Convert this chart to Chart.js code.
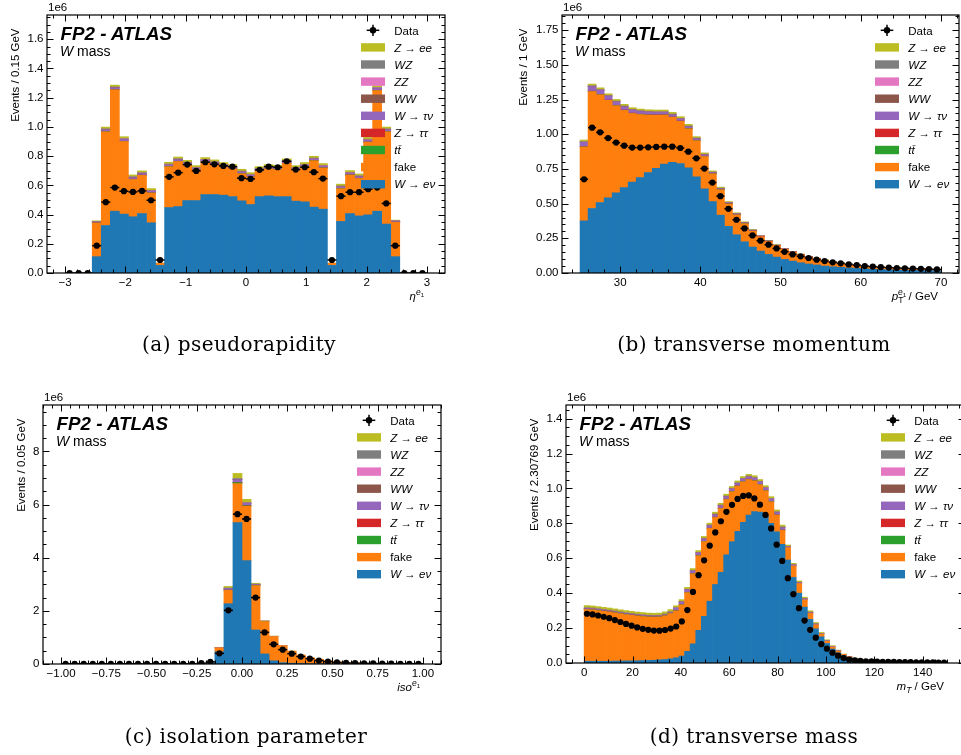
<!DOCTYPE html>
<html><head><meta charset="utf-8">
<script src="https://cdn.jsdelivr.net/npm/chart.js@4.4.0/dist/chart.umd.min.js"></script>
<style>
html,body{margin:0;padding:0;background:#fff;}
body{width:961px;height:755px;overflow:hidden;position:relative;}
.pc{position:absolute;}
.pc canvas{display:block;}
#ov{position:absolute;left:0;top:0;pointer-events:none;}
</style></head><body>
<div class="pc" style="left:0;top:0;width:480px;height:300px"><canvas id="cA" width="480" height="300"></canvas></div>
<div class="pc" style="left:480px;top:0;width:481px;height:300px"><canvas id="cB" width="481" height="300"></canvas></div>
<div class="pc" style="left:0;top:390px;width:480px;height:300px"><canvas id="cC" width="480" height="300"></canvas></div>
<div class="pc" style="left:480px;top:390px;width:500px;height:300px"><canvas id="cD" width="500" height="300"></canvas></div>
<svg id="ov" width="961" height="755" xmlns="http://www.w3.org/2000/svg"></svg>
<script>
// ---------------- DATA (values in units of 1e6 events) ----------------
// (a) pseudorapidity: 40 bins from -3 to 3
const etaBinning = [-3, 3, 40];
const etaWenu   = [0,0,0,.112,.325,.423,.403,.385,.407,.344,.052,.448,.455,.496,.496,.537,.537,.533,.523,.494,.469,.523,.528,.523,.523,.492,.487,.451,.437,.052,.353,.407,.391,.398,.423,.335,.112,0,0,0];
const etaFake   = [0,0,0,.230,.641,.830,.497,.255,.261,.203,.014,.279,.308,.244,.208,.222,.206,.192,.188,.185,.187,.174,.183,.183,.227,.212,.238,.317,.281,.014,.224,.263,.256,.497,.826,.631,.235,0,0,0];
const etaTtbar  = [0,0,0,.0005,.001,.001,.001,.001,.001,.001,0,.001,.001,.001,.001,.001,.001,.001,.001,.001,.001,.001,.001,.001,.001,.001,.001,.001,.001,0,.001,.001,.001,.001,.001,.001,.0005,0,0,0];
const etaZtautau= [0,0,0,.0005,.001,.001,.001,.001,.001,.001,0,.001,.001,.001,.001,.001,.001,.001,.001,.001,.001,.001,.001,.001,.001,.001,.001,.001,.001,0,.001,.001,.001,.001,.001,.001,.0005,0,0,0];
const etaWtaunu = [0,0,0,.006,.012,.012,.012,.010,.010,.010,.001,.010,.010,.010,.010,.010,.010,.010,.010,.010,.010,.010,.010,.010,.010,.010,.010,.010,.010,.001,.010,.010,.010,.012,.012,.012,.006,0,0,0];
const etaWW     = [0,0,0,.001,.002,.002,.002,.002,.002,.002,0,.002,.002,.002,.002,.002,.002,.002,.002,.002,.002,.002,.002,.002,.002,.002,.002,.002,.002,0,.002,.002,.002,.002,.002,.002,.001,0,0,0];
const etaZZ     = [0,0,0,.001,.002,.002,.002,.002,.002,.002,0,.002,.002,.002,.002,.002,.002,.002,.002,.002,.002,.002,.002,.002,.002,.002,.002,.002,.002,0,.002,.002,.002,.002,.002,.002,.001,0,0,0];
const etaWZ     = [0,0,0,.001,.003,.003,.003,.003,.003,.003,0,.003,.003,.003,.003,.003,.003,.003,.003,.003,.003,.003,.003,.003,.003,.003,.003,.003,.003,0,.003,.003,.003,.003,.003,.003,.001,0,0,0];
const etaZee    = [0,0,0,.005,.012,.012,.012,.012,.012,.012,.001,.012,.012,.012,.012,.012,.012,.012,.012,.012,.012,.012,.012,.012,.012,.012,.012,.012,.012,.001,.012,.012,.012,.012,.012,.012,.005,0,0,0];
const etaData   = [0,0,0,.187,.485,.585,.560,.555,.562,.498,.089,.658,.687,.742,.699,.758,.744,.733,.728,.649,.644,.706,.728,.724,.765,.708,.724,.690,.646,.089,.526,.553,.553,.574,.585,.476,.187,0,0,0];

// (b) transverse momentum: 45 bins from 25 to 70 GeV
const ptBinning = [25, 70, 45];
const ptWenu    = [.376,.465,.508,.542,.578,.616,.655,.688,.724,.755,.786,.798,.789,.758,.693,.607,.515,.417,.336,.276,.225,.187,.158,.134,.115,.098,.086,.074,.065,.058,.050,.045,.041,.037,.033,.030,.027,.025,.023,.021,.020,.019,.018,.017,.016];
const ptFake    = [.532,.843,.776,.702,.627,.556,.495,.454,.414,.382,.352,.324,.304,.281,.260,.232,.199,.182,.161,.142,.130,.114,.103,.092,.082,.073,.064,.057,.049,.043,.041,.034,.028,.025,.022,.019,.017,.015,.014,.013,.012,.011,.010,.009,.008];
const ptTtbar   = [.001,.001,.001,.001,.001,.001,.001,.001,.001,.001,.001,.001,.001,.001,.001,.001,.001,.001,.001,.001,.001,.001,0,0,0,0,0,0,0,0,0,0,0,0,0,0,0,0,0,0,0,0,0,0,0];
const ptZtautau = [.002,.002,.002,.002,.002,.002,.002,.002,.002,.002,.002,.002,.002,.002,.002,.002,.001,.001,.001,.001,.001,.001,.001,.001,.001,.001,.001,.001,.001,.001,0,0,0,0,0,0,0,0,0,0,0,0,0,0,0];
const ptWtaunu  = [.030,.033,.030,.027,.025,.023,.021,.019,.018,.017,.016,.015,.013,.012,.011,.009,.008,.007,.006,.005,.004,.004,.003,.003,.002,.002,.002,.002,.002,.002,.001,.001,.001,.001,.001,.001,.001,.001,.001,.001,.001,.001,.001,.001,.001];
const ptWW      = [.002,.002,.002,.002,.002,.002,.002,.002,.002,.002,.002,.002,.002,.002,.002,.002,.001,.001,.001,.001,.001,.001,.001,.001,.001,0,0,0,0,0,0,0,0,0,0,0,0,0,0,0,0,0,0,0,0];
const ptZZ      = [.001,.001,.001,.001,.001,.001,.001,.001,.001,.001,.001,.001,.001,.001,.001,.001,.001,.001,.001,.001,.001,.001,.001,0,0,0,0,0,0,0,0,0,0,0,0,0,0,0,0,0,0,0,0,0,0];
const ptWZ      = [.003,.003,.003,.003,.003,.003,.003,.003,.003,.003,.003,.003,.003,.003,.003,.003,.002,.002,.002,.002,.002,.001,.001,.001,.001,.001,.001,.001,.001,.001,.001,.001,.001,.001,.001,.001,.001,.001,.001,.001,.001,.001,.001,.001,.001];
const ptZee     = [.012,.012,.012,.012,.012,.012,.012,.012,.012,.012,.012,.012,.012,.012,.010,.009,.008,.007,.006,.005,.004,.004,.003,.003,.002,.002,.002,.002,.002,.002,.001,.001,.001,.001,.001,.001,.001,.001,.001,.001,.001,.001,.001,.001,.001];
const ptData    = [.676,1.048,1.014,.973,.940,.918,.904,.904,.906,.909,.911,.911,.901,.875,.827,.753,.652,.554,.463,.384,.321,.271,.233,.204,.177,.153,.134,.120,.108,.096,.086,.077,.070,.062,.057,.050,.046,.042,.039,.036,.034,.032,.030,.028,.026];

// (c) isolation parameter: 40 bins from -1 to 1
const isoBinning = [-1, 1, 40];
const isoWenu   = [0,0,0,0,0,0,0,0,0,0,0,0,0,0,0,0,.03,.46,2.27,5.32,3.89,1.28,.38,.12,.05,.03,.02,.01,.01,.005,.003,.002,.002,.001,.001,0,0,0,0,0];
const isoFake   = [0,0,0,0,0,0,0,0,0,0,0,0,0,0,0,0,.03,.15,.50,1.47,2.045,1.67,1.22,.915,.645,.46,.32,.23,.17,.125,.087,.063,.043,.033,.024,.019,.015,.012,.010,.008];
const isoTtbar  = [0,0,0,0,0,0,0,0,0,0,0,0,0,0,0,0,0,0,.01,.04,.02,.01,.005,0,0,0,0,0,0,0,0,0,0,0,0,0,0,0,0,0];
const isoZtautau= [0,0,0,0,0,0,0,0,0,0,0,0,0,0,0,0,0,0,.005,.01,.01,.005,0,0,0,0,0,0,0,0,0,0,0,0,0,0,0,0,0,0];
const isoWtaunu = [0,0,0,0,0,0,0,0,0,0,0,0,0,0,0,0,0,.01,.06,.10,.08,.03,.015,.01,.005,0,0,0,0,0,0,0,0,0,0,0,0,0,0,0];
const isoWW     = [0,0,0,0,0,0,0,0,0,0,0,0,0,0,0,0,0,0,.005,.01,.01,.005,0,0,0,0,0,0,0,0,0,0,0,0,0,0,0,0,0,0];
const isoZZ     = [0,0,0,0,0,0,0,0,0,0,0,0,0,0,0,0,0,0,0,.005,.005,0,0,0,0,0,0,0,0,0,0,0,0,0,0,0,0,0,0,0];
const isoWZ     = [0,0,0,0,0,0,0,0,0,0,0,0,0,0,0,0,0,0,.01,.03,.02,.01,0,0,0,0,0,0,0,0,0,0,0,0,0,0,0,0,0,0];
const isoZee    = [0,0,0,0,0,0,0,0,0,0,0,0,0,0,0,0,0,.01,.06,.19,.12,.03,.01,.005,0,0,0,0,0,0,0,0,0,0,0,0,0,0,0,0];
const isoData   = [.01,.01,.01,.01,.01,.01,.01,.01,.01,.01,.01,.01,.01,.01,.01,.03,.08,.40,2.02,5.64,5.46,2.50,1.19,.74,.54,.39,.28,.20,.13,.09,.06,.04,.03,.025,.02,.015,.012,.01,.01,.01];

// (d) transverse mass: 65 bins from 0 to 150 GeV
const mtBinning = [0, 150, 65];
const mtWenu    = [.010,.010,.010,.010,.010,.011,.011,.012,.012,.013,.014,.015,.016,.018,.020,.024,.030,.040,.067,.110,.187,.267,.354,.450,.520,.620,.695,.754,.806,.848,.867,.865,.844,.800,.752,.680,.590,.490,.400,.320,.250,.196,.150,.112,.080,.058,.042,.031,.023,.017,.013,.010,.009,.007,.006,.005,.005,.004,.004,.003,.003,.003,.002,.002,.002];
const mtFake    = [.296,.294,.290,.286,.282,.276,.271,.265,.261,.256,.252,.248,.246,.245,.250,.259,.268,.293,.336,.401,.427,.428,.417,.384,.365,.317,.286,.259,.232,.203,.176,.156,.142,.123,.095,.080,.071,.066,.055,.042,.034,.023,.016,.013,.012,.010,.007,.005,.003,.003,.002,.002,.002,.001,.001,.001,.001,.001,.001,.001,.001,.001,.001,.001,.001];
const mtTtbar   = [.001,.001,.001,.001,.001,.001,.001,.001,.001,.001,.001,.001,.001,.001,.001,.001,.001,.001,.001,.001,.001,.001,.001,.001,.001,.001,.001,.001,.001,.001,.001,.001,.001,.001,.001,.001,0,0,0,0,0,0,0,0,0,0,0,0,0,0,0,0,0,0,0,0,0,0,0,0,0,0,0,0,0];
const mtZtautau = [.001,.001,.001,.001,.001,.001,.001,.001,.001,.001,.001,.001,.001,.001,.001,.001,.001,.001,.001,.001,.001,.001,.001,.001,.001,.001,.001,.001,.001,.001,.001,.001,.001,.001,.001,.001,0,0,0,0,0,0,0,0,0,0,0,0,0,0,0,0,0,0,0,0,0,0,0,0,0,0,0,0,0];
const mtWtaunu  = [.004,.004,.004,.004,.004,.004,.004,.004,.004,.004,.004,.004,.004,.004,.004,.004,.013,.013,.013,.013,.013,.013,.013,.013,.013,.013,.013,.013,.013,.013,.013,.013,.013,.013,.013,.013,.004,.004,.004,.004,.004,.004,.002,.002,.002,.002,.001,.001,.001,.001,.001,.001,.001,.001,.001,.001,.001,.001,.001,.001,.001,.001,.001,.001,.001];
const mtWW      = [.001,.001,.001,.001,.001,.001,.001,.001,.001,.001,.001,.001,.001,.001,.001,.001,.001,.001,.001,.001,.001,.001,.001,.001,.001,.001,.001,.001,.001,.001,.001,.001,.001,.001,.001,.001,.001,.001,.001,.001,.001,0,0,0,0,0,0,0,0,0,0,0,0,0,0,0,0,0,0,0,0,0,0,0,0];
const mtZZ      = [.001,.001,.001,.001,.001,.001,.001,.001,.001,.001,.001,.001,.001,.001,.001,.001,.001,.001,.001,.001,.001,.001,.001,.001,.001,.001,.001,.001,.001,.001,.001,.001,.001,.001,.001,.001,.001,.001,.001,.001,.001,0,0,0,0,0,0,0,0,0,0,0,0,0,0,0,0,0,0,0,0,0,0,0,0];
const mtWZ      = [.003,.003,.003,.003,.003,.003,.003,.003,.003,.003,.003,.003,.003,.003,.003,.003,.003,.003,.003,.003,.003,.003,.003,.003,.003,.003,.003,.003,.003,.003,.003,.003,.003,.003,.003,.003,.002,.002,.002,.002,.002,.002,.002,.002,.002,.002,0,0,0,0,0,0,0,0,0,0,0,0,0,0,0,0,0,0,0];
const mtZee     = [.012,.012,.012,.012,.012,.012,.012,.012,.012,.012,.012,.012,.012,.012,.012,.012,.010,.010,.010,.010,.010,.010,.010,.010,.010,.010,.010,.010,.010,.010,.010,.010,.010,.010,.010,.010,.007,.007,.007,.007,.007,.007,.005,.004,.003,.002,.001,.001,.001,.001,.001,.001,.001,.001,.001,.001,.001,.001,.001,.001,.001,.001,.001,.001,.001];
const mtData    = [.282,.278,.272,.265,.257,.246,.235,.224,.214,.204,.196,.190,.186,.185,.189,.197,.209,.238,.303,.407,.503,.588,.672,.748,.812,.866,.906,.940,.957,.960,.943,.907,.848,.771,.678,.585,.486,.394,.314,.243,.190,.145,.108,.082,.059,.042,.028,.019,.015,.012,.010,.009,.008,.007,.006,.006,.005,.005,.005,.004,.004,.004,.004,.003,.003];

// tick values and labels
const etaXTicks = [-3,-2,-1,0,1,2,3];
const etaXLabels = ['\u22123','\u22122','\u22121','0','1','2','3'];
const etaYTicks = [0,0.2,0.4,0.6,0.8,1.0,1.2,1.4,1.6];
const etaYLabels = ['0.0','0.2','0.4','0.6','0.8','1.0','1.2','1.4','1.6'];
const ptXTicks = [30,40,50,60,70];
const ptXLabels = ['30','40','50','60','70'];
const ptYTicks = [0,0.25,0.5,0.75,1.0,1.25,1.5,1.75];
const ptYLabels = ['0.00','0.25','0.50','0.75','1.00','1.25','1.50','1.75'];
const isoXTicks = [-1,-0.75,-0.5,-0.25,0,0.25,0.5,0.75,1];
const isoXLabels = ['\u22121.00','\u22120.75','\u22120.50','\u22120.25','0.00','0.25','0.50','0.75','1.00'];
const isoYTicks = [0,2,4,6,8];
const isoYLabels = ['0','2','4','6','8'];
const mtXTicks = [0,20,40,60,80,100,120,140];
const mtXLabels = ['0','20','40','60','80','100','120','140'];
const mtYTicks = [0,0.2,0.4,0.6,0.8,1.0,1.2,1.4];
const mtYLabels = ['0.0','0.2','0.4','0.6','0.8','1.0','1.2','1.4'];

// ---------------- STYLE ----------------
const STACK = [
  {key:'wenu', color:'#1f77b4'}, {key:'fake', color:'#ff7f0e'}, {key:'ttbar', color:'#2ca02c'},
  {key:'ztautau', color:'#d62728'}, {key:'wtaunu', color:'#9467bd'}, {key:'ww', color:'#8c564b'},
  {key:'zz', color:'#e377c2'}, {key:'wz', color:'#7f7f7f'}, {key:'zee', color:'#bcbd22'}
];
const COLOR = Object.fromEntries(STACK.map(s => [s.key, s.color]));
const I = s => '<tspan font-style="italic">' + s + '</tspan>';
const LEGEND = [
  {key:'zee', label: I('Z') + ' \u2192 ' + I('ee')},
  {key:'wz', label: I('WZ')},
  {key:'zz', label: I('ZZ')},
  {key:'ww', label: I('WW')},
  {key:'wtaunu', label: I('W') + ' \u2192 ' + I('\u03c4\u03bd')},
  {key:'ztautau', label: I('Z') + ' \u2192 ' + I('\u03c4\u03c4')},
  {key:'ttbar', label: I('tt\u0304')},
  {key:'fake', label: 'fake'},
  {key:'wenu', label: I('W') + ' \u2192 ' + I('e\u03bd')}
];
const FONT = 'Liberation Sans, Arial, sans-serif';

const PANELS = [
  {id:'cA', cx:0, cy:0, cw:480, ch:300, L:47, T:15, R:445, B:273, bins:etaBinning, xmin:-3.3, xmax:3.3, ymax:1.766,
   series:{wenu:etaWenu, fake:etaFake, ttbar:etaTtbar, ztautau:etaZtautau, wtaunu:etaWtaunu, ww:etaWW, zz:etaZZ, wz:etaWZ, zee:etaZee}, data:etaData,
   xT:etaXTicks, xL:etaXLabels, yT:etaYTicks, yL:etaYLabels, xMinor:0.2, yMinor:0.05,
   yTitle:'Events / 0.15 GeV', yTitleOff:32,
   xTitle: I('\u03b7') + '<tspan font-style="italic" font-size="8.5" dy="-5">e</tspan><tspan font-size="6" dy="1.8">1</tspan>',
   caption:'(a) pseudorapidity', capX:239, capY:351},
  {id:'cB', cx:480, cy:0, cw:481, ch:300, L:562, T:15, R:959, B:273, bins:ptBinning, xmin:22.75, xmax:72.25, ymax:1.86,
   series:{wenu:ptWenu, fake:ptFake, ttbar:ptTtbar, ztautau:ptZtautau, wtaunu:ptWtaunu, ww:ptWW, zz:ptZZ, wz:ptWZ, zee:ptZee}, data:ptData,
   xT:ptXTicks, xL:ptXLabels, yT:ptYTicks, yL:ptYLabels, xMinor:2, yMinor:0.05,
   yTitle:'Events / 1 GeV', yTitleOff:39.5,
   xTitle: I('p') + '<tspan font-style="italic" font-size="8.5" dy="-5">e</tspan><tspan font-size="6" dy="1.8">1</tspan><tspan font-size="8.5" dx="-8" dy="6.5">T</tspan><tspan dx="2" dy="-3.3"> / GeV</tspan>',
   caption:'(b) transverse momentum', capX:754, capY:351},
  {id:'cC', cx:0, cy:390, cw:480, ch:300, L:43, T:405, R:441, B:664, bins:isoBinning, xmin:-1.1, xmax:1.1, ymax:9.75,
   series:{wenu:isoWenu, fake:isoFake, ttbar:isoTtbar, ztautau:isoZtautau, wtaunu:isoWtaunu, ww:isoWW, zz:isoZZ, wz:isoWZ, zee:isoZee}, data:isoData,
   xT:isoXTicks, xL:isoXLabels, yT:isoYTicks, yL:isoYLabels, xMinor:0.05, yMinor:0.5,
   yTitle:'Events / 0.05 GeV', yTitleOff:22,
   xTitle: I('iso') + '<tspan font-style="italic" font-size="8.5" dy="-5">e</tspan><tspan font-size="6" dy="1.8">1</tspan>',
   caption:'(c) isolation parameter', capX:246, capY:743},
  {id:'cD', cx:480, cy:390, cw:500, ch:300, L:566, T:405, R:965, B:663, bins:mtBinning, xmin:-7.5, xmax:157.5, ymax:1.478,
   series:{wenu:mtWenu, fake:mtFake, ttbar:mtTtbar, ztautau:mtZtautau, wtaunu:mtWtaunu, ww:mtWW, zz:mtZZ, wz:mtWZ, zee:mtZee}, data:mtData,
   xT:mtXTicks, xL:mtXLabels, yT:mtYTicks, yL:mtYLabels, xMinor:5, yMinor:0.05,
   yTitle:'Events / 2.30769 GeV', yTitleOff:32.5,
   xTitle: I('m') + '<tspan font-style="italic" font-size="8.5" dy="3">T</tspan><tspan dy="-3"> / GeV</tspan>',
   caption:'(d) transverse mass', capX:754, capY:743}
];

// ---------------- PLUGIN: error bars, frame, inward ticks ----------------
const hepAxes = {
  id: 'hepAxes',
  afterDatasetsDraw(chart, args, o) {
    const {ctx, chartArea: a, scales: {x, y}} = chart;
    const ds = chart.data.datasets[o.dataIndex];
    ctx.save();
    ctx.beginPath(); ctx.rect(a.left, a.top, a.right - a.left, a.bottom - a.top); ctx.clip();
    ctx.strokeStyle = '#000'; ctx.lineWidth = 1.5;
    ds.data.forEach(p => {
      const py = y.getPixelForValue(p.y);
      ctx.beginPath();
      ctx.moveTo(x.getPixelForValue(p.x - o.half), py);
      ctx.lineTo(x.getPixelForValue(p.x + o.half), py);
      ctx.stroke();
    });
    ctx.restore();
  },
  afterDraw(chart, args, o) {
    const {ctx, chartArea: a, scales: {x, y}} = chart;
    const L = a.left, R = a.right, T = a.top, B = a.bottom;
    ctx.save();
    ctx.strokeStyle = '#000'; ctx.lineWidth = 1;
    ctx.beginPath();
    const isMaj = (arr, v) => arr.some(m => Math.abs(m - v) < 1e-9);
    const xTick = (v, len) => { const p = Math.round(x.getPixelForValue(v)) + 0.5; ctx.moveTo(p, B); ctx.lineTo(p, B - len); ctx.moveTo(p, T); ctx.lineTo(p, T + len); };
    const yTick = (v, len) => { const p = Math.round(y.getPixelForValue(v)) + 0.5; ctx.moveTo(L, p); ctx.lineTo(L + len, p); ctx.moveTo(R, p); ctx.lineTo(R - len, p); };
    o.xMajor.forEach(v => xTick(v, 6.5));
    for (let k = Math.ceil(x.min / o.xMinor - 1e-9); k * o.xMinor <= x.max + 1e-9; k++) { const v = k * o.xMinor; if (!isMaj(o.xMajor, v)) xTick(v, 3.5); }
    o.yMajor.forEach(v => yTick(v, 6.5));
    for (let k = 0; k * o.yMinor <= y.max + 1e-9; k++) { const v = k * o.yMinor; if (!isMaj(o.yMajor, v)) yTick(v, 3.5); }
    ctx.stroke();
    ctx.lineWidth = 1.2;
    ctx.strokeRect(L, T, R - L, B - T);
    ctx.restore();
  }
};

function binCenters(b) { const w = (b[1] - b[0]) / b[2]; return Array.from({length: b[2]}, (_, i) => b[0] + w * (i + 0.5)); }

PANELS.forEach(P => {
  const centers = binCenters(P.bins);
  const half = (P.bins[1] - P.bins[0]) / P.bins[2] / 2;
  const datasets = STACK.map(s => ({
    type: 'bar', label: s.key,
    data: centers.map((c, i) => ({x: c, y: P.series[s.key][i] || null})),
    backgroundColor: s.color, borderWidth: 0, stack: 'mc', order: 2,
    barPercentage: 1, categoryPercentage: 1
  }));
  datasets.push({
    type: 'line', label: 'Data', data: centers.map((c, i) => ({x: c, y: P.data[i]})),
    showLine: false, pointRadius: 3.1, pointBackgroundColor: '#000', pointBorderWidth: 0,
    borderColor: '#000', order: 0, clip: 0
  });
  const tickFont = {family: FONT, size: 11.5};
  new Chart(document.getElementById(P.id), {
    type: 'bar',
    data: {datasets},
    options: {
      responsive: false, animation: false, events: [],
      layout: {padding: {top: P.T - P.cy, right: P.cx + P.cw - P.R, left: 0, bottom: 0}, autoPadding: false},
      plugins: {legend: {display: false}, tooltip: {enabled: false},
        hepAxes: {dataIndex: STACK.length, half, xMajor: P.xT, yMajor: P.yT, xMinor: P.xMinor, yMinor: P.yMinor}},
      scales: {
        x: {type: 'linear', min: P.xmin, max: P.xmax, offset: false,
            grid: {display: false, drawTicks: false, tickLength: 0}, border: {display: false},
            afterBuildTicks: s => { s.ticks = P.xT.map(v => ({value: v})); },
            afterFit: s => { s.height = P.cy + P.ch - P.B; },
            ticks: {autoSkip: false, maxRotation: 0, minRotation: 0, padding: 3, color: '#000', font: tickFont,
                    callback: (v, i) => P.xL[i]}},
        y: {type: 'linear', min: 0, max: P.ymax,
            grid: {display: false, drawTicks: false, tickLength: 0}, border: {display: false},
            afterBuildTicks: s => { s.ticks = P.yT.map(v => ({value: v})); },
            afterFit: s => { s.width = P.L - P.cx; },
            ticks: {autoSkip: false, padding: 3.5, color: '#000', font: tickFont,
                    callback: (v, i) => P.yL[i]}}
      }
    },
    plugins: [hepAxes]
  });
});

// ---------------- SVG text overlay ----------------
const NS = 'http://www.w3.org/2000/svg';
const svg = document.getElementById('ov');
function el(tag, attrs, html) {
  const e = document.createElementNS(NS, tag);
  for (const k in attrs) e.setAttribute(k, attrs[k]);
  if (html !== undefined) e.innerHTML = html;
  svg.appendChild(e);
  return e;
}
PANELS.forEach(P => {
  const base = {'font-family': FONT, 'font-size': 11.5, fill: '#000'};
  el('text', Object.assign({}, base, {x: P.L + 1, y: P.T - 4}), '1e6');
  el('text', Object.assign({}, base, {x: P.L + 13.5, y: P.T + 24.5, 'font-size': 18.8, 'font-weight': 'bold', 'font-style': 'italic'}), 'FP2 - ATLAS');
  el('text', Object.assign({}, base, {x: P.L + 13, y: P.T + 41, 'font-size': 14}), I('W') + ' mass');
  el('text', Object.assign({}, base, {x: 0, y: 0, 'text-anchor': 'end', 'dominant-baseline': 'central',
     transform: 'translate(' + (P.L - P.yTitleOff) + ',' + (P.T + 13.5) + ') rotate(-90)'}), P.yTitle);
  el('text', Object.assign({}, base, {x: P.R - 21, y: P.B + 27, 'text-anchor': 'end'}), P.xTitle);
  // legend
  const rowY = k => P.T + 15.3 + 17.1 * k;
  const mx = P.R - 72, my = rowY(0);
  el('line', {x1: mx - 6.3, y1: my, x2: mx + 6.3, y2: my, stroke: '#000', 'stroke-width': 1.5});
  el('line', {x1: mx, y1: my - 5.6, x2: mx, y2: my + 5.6, stroke: '#000', 'stroke-width': 1.5});
  el('circle', {cx: mx, cy: my, r: 3.2, fill: '#000'});
  el('text', Object.assign({}, base, {x: P.R - 50.7, y: my + 4.2}), 'Data');
  LEGEND.forEach((e, k) => {
    const cy = rowY(k + 1);
    el('rect', {x: P.R - 84, y: cy - 4.2, width: 24, height: 8.4, fill: COLOR[e.key]});
    el('text', Object.assign({}, base, {x: P.R - 50.7, y: cy + 4.2}), e.label);
  });
  el('text', {x: P.capX, y: P.capY, 'text-anchor': 'middle', 'font-family': 'DejaVu Serif, serif', 'font-size': 20, 'letter-spacing': 0.45, fill: '#000'}, P.caption);
});
</script>
</body></html>
